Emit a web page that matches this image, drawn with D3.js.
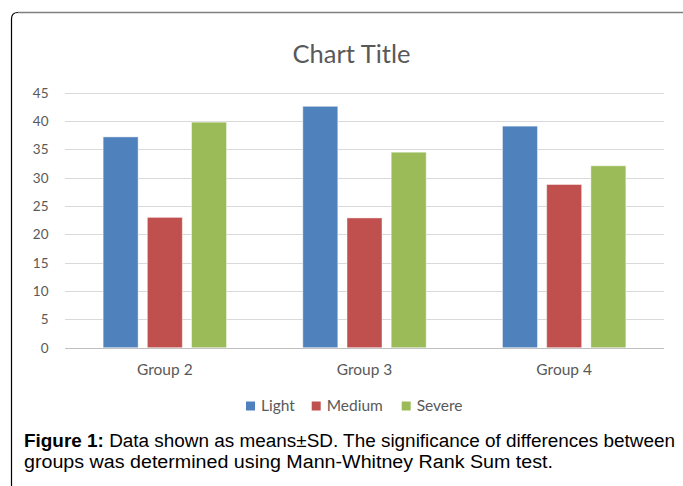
<!DOCTYPE html>
<html>
<head>
<meta charset="utf-8">
<script src="https://cdn.jsdelivr.net/npm/d3@7"></script>
<style>
html,body{margin:0;padding:0;background:#fff;}
svg{display:block;}
</style>
</head>
<body>
<script>
const categories = ["Group 2", "Group 3", "Group 4"];
const seriesNames = ["Light", "Medium", "Severe"];
const light = [37.2, 42.6, 39.1];
const medium = [23.0, 22.9, 28.8];
const severe = [39.8, 34.5, 32.1];
const yTicks = [0, 5, 10, 15, 20, 25, 30, 35, 40, 45];
const colors = ["#4F81BD", "#C0504D", "#9BBB59"];
const title = "Chart Title";
const captionBold = "Figure 1:";
const captionLine1 = " Data shown as means±SD. The significance of differences between";
const captionLine2 = "groups was determined using Mann-Whitney Rank Sum test.";

const seriesValues = [light, medium, severe];
const W = 683, H = 486;
const svg = d3.select("body").append("svg").attr("width", W).attr("height", H);
svg.append("rect").attr("width", W).attr("height", H).attr("fill", "#fff");

// frame
svg.append("path")
  .attr("d", "M11.5,486 L11.5,19 Q11.5,12.5 18,12.5 L683,12.5")
  .attr("fill", "none").attr("stroke", "#000").attr("stroke-width", 1.2);
svg.append("path")
  .attr("d", "M18,12.5 L683,12.5")
  .attr("fill", "none").attr("stroke", "#7f7f7f").attr("stroke-width", 1.5);

const font = "Lato, 'Open Sans', sans-serif";
const x0 = d3.scaleBand().domain(categories).range([65, 664]).padding(0);
const x1 = d3.scaleBand().domain(seriesNames).range([0, 123.4]).paddingInner(0.208).paddingOuter(0);
const y = d3.scaleLinear().domain([0, 45]).range([347.7, 92.7]);

// gridlines
svg.append("g").selectAll("line").data(yTicks).join("line")
  .attr("x1", 65).attr("x2", 664)
  .attr("y1", d => Math.round(y(d)) + 0.5).attr("y2", d => Math.round(y(d)) + 0.5)
  .attr("stroke", d => d === 0 ? "#bfbfbf" : "#d9d9d9").attr("stroke-width", 1);

// y labels
const yAxis = d3.axisLeft(y).tickValues(yTicks).tickSize(0).tickPadding(0);
const gy = svg.append("g").attr("transform", "translate(48.5,0)").call(yAxis);
gy.select(".domain").remove();
gy.selectAll("text").attr("font-family", font).attr("font-size", 13.5).attr("fill", "#595959");

// bars
const groups = svg.append("g").selectAll("g").data(categories).join("g")
  .attr("transform", d => `translate(${x0(d) + (x0.bandwidth() - 123.4) / 2},0)`);
groups.selectAll("rect").data((c, i) => seriesNames.map((s, j) => ({s, j, v: seriesValues[j][i]})))
  .join("rect")
  .attr("x", d => x1(d.s)).attr("width", x1.bandwidth())
  .attr("y", d => y(d.v)).attr("height", d => y(0) - y(d.v))
  .attr("fill", d => colors[d.j])
  .attr("stroke", "#fff").attr("stroke-opacity", 0.45).attr("stroke-width", 1);

// x labels
const xAxis = d3.axisBottom(x0).tickSize(0).tickPadding(0);
const gx = svg.append("g").attr("transform", "translate(0,375)").call(xAxis);
gx.select(".domain").remove();
gx.selectAll("text").attr("font-family", font).attr("font-size", 15.5).attr("fill", "#595959").attr("dy", 0);

// title
svg.append("text").attr("x", 351.5).attr("y", 63).attr("text-anchor", "middle")
  .attr("font-family", font).attr("font-size", 25.5).attr("fill", "#595959").text(title);

// legend
const legX = [246, 311.7, 401.7];
const leg = svg.append("g").selectAll("g").data(seriesNames).join("g")
  .attr("transform", (d, i) => `translate(${legX[i]},0)`);
leg.append("rect").attr("x", 0).attr("y", 401.5).attr("width", 9).attr("height", 9).attr("fill", (d, i) => colors[i]);
leg.append("text").attr("x", 15).attr("y", 411).attr("font-family", font).attr("font-size", 15.5)
  .attr("fill", "#595959").text(d => d);

// caption
const cap = svg.append("text").attr("x", 24).attr("y", 447)
  .attr("font-family", "'Liberation Sans', Arial, sans-serif").attr("font-size", 18).attr("fill", "#000")
  .attr("textLength", 651).attr("lengthAdjust", "spacingAndGlyphs");
cap.append("tspan").attr("font-weight", "bold").text(captionBold);
cap.append("tspan").text(captionLine1);
svg.append("text").attr("x", 24).attr("y", 467.5)
  .attr("font-family", "'Liberation Sans', Arial, sans-serif").attr("font-size", 18).attr("fill", "#000")
  .attr("textLength", 529).attr("lengthAdjust", "spacingAndGlyphs")
  .text(captionLine2);
</script>
</body>
</html>
